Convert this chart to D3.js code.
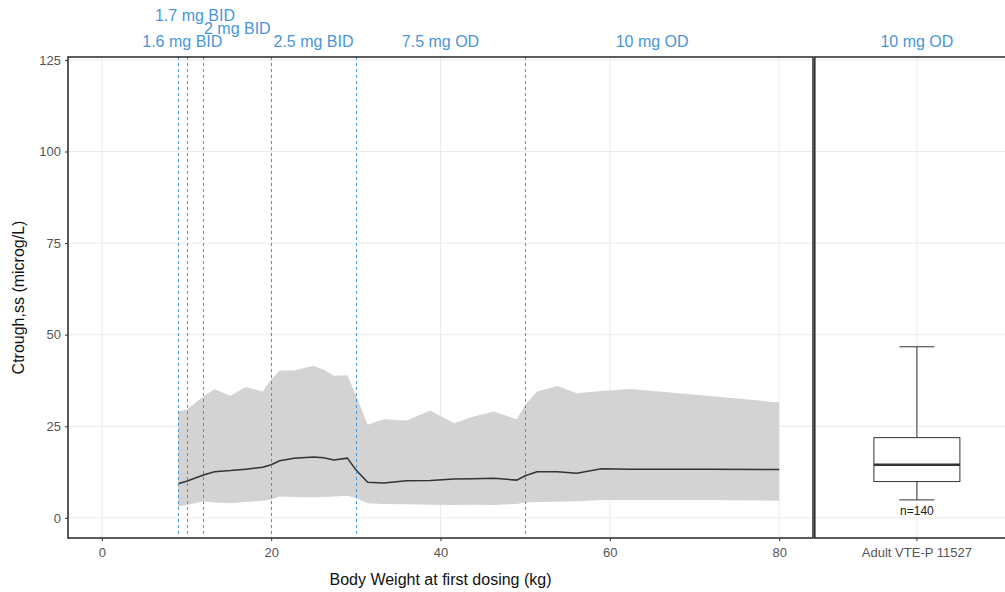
<!DOCTYPE html>
<html>
<head>
<meta charset="utf-8">
<script src="https://cdn.jsdelivr.net/npm/d3@7"></script>
<style>
  body { margin: 0; background: #fff; }
  svg { font-family: "Liberation Sans", Arial, sans-serif; }
</style>
</head>
<body>
<svg id="chart" width="1005" height="592"></svg>
<script>
// body weight (kg) where the prediction band was read
var weights = [9, 10, 12, 13.3, 15.2, 17, 19, 20, 21, 22.7, 25, 26.2, 27.4, 29, 30, 31.4, 33.3, 36, 38.8, 41.6, 43.9, 46.3, 49, 50, 51.4, 53.8, 56.1, 59, 62.4, 71.5, 80];
var upper = [29.0, 29.5, 33.1, 35.1, 33.3, 35.7, 34.5, 37.7, 40.2, 40.2, 41.5, 40.4, 38.8, 38.9, 33.6, 25.4, 26.9, 26.6, 29.3, 25.8, 27.7, 29.0, 26.9, 30.8, 34.5, 36.0, 34.0, 34.6, 35.2, 33.3, 31.5];
var lower = [3.1, 3.5, 4.5, 4.2, 4.0, 4.3, 4.7, 5.0, 5.8, 5.7, 5.6, 5.7, 5.8, 6.0, 5.4, 4.0, 3.8, 3.7, 3.6, 3.5, 3.6, 3.5, 3.8, 4.2, 4.3, 4.4, 4.5, 4.9, 4.9, 4.9, 4.7];
var median = [9.3, 10.0, 11.7, 12.6, 12.9, 13.3, 13.8, 14.5, 15.6, 16.3, 16.6, 16.4, 15.8, 16.3, 13.1, 9.7, 9.5, 10.1, 10.2, 10.6, 10.7, 10.8, 10.3, 11.5, 12.6, 12.6, 12.2, 13.4, 13.3, 13.3, 13.2];

// dose band cut points and labels
var cutPoints = [9, 10, 12, 20, 30, 50];
var doseLabels = ["1.6 mg BID", "1.7 mg BID", "2 mg BID", "2.5 mg BID", "7.5 mg OD", "10 mg OD"];
var doseLabelAt = [9.5, 11, 16, 25, 40, 65];
var doseLabelRow = [0, 2, 1, 0, 0, 0];

// adult reference boxplot
var adultLabel = "Adult VTE-P 11527";
var adultDose = "10 mg OD";
var adultStats = { whiskerLo: 4.9, q1: 9.9, med: 14.5, q3: 21.9, whiskerHi: 46.7, n: 140 };

var xTicks = [0, 20, 40, 60, 80];
var yTicks = [0, 25, 50, 75, 100, 125];

var svg = d3.select("#chart");
var pTop = 57, pBottom = 538;
var pLeft = 68, pRight = 813;
var rLeft = 814.8, rRight = 1019;

var x = d3.scaleLinear().domain([-4, 84]).range([pLeft, pRight]);
var y = d3.scaleLinear().domain([-5.5, 125.8]).range([pBottom, pTop]);
var xb = d3.scaleBand().domain([adultLabel]).range([rLeft, rRight]);

var blue = "#4896d8";
var gridCol = "#ebebeb";
var frameCol = "#333333";
var tickText = "#555555";

// grid - left panel
var grid = svg.append("g");
grid.selectAll(".gx").data(xTicks).enter().append("line")
  .attr("x1", function (d) { return x(d); }).attr("x2", function (d) { return x(d); })
  .attr("y1", pTop).attr("y2", pBottom)
  .attr("stroke", gridCol).attr("stroke-width", 1);
grid.selectAll(".gy").data(yTicks).enter().append("line")
  .attr("x1", pLeft).attr("x2", pRight)
  .attr("y1", function (d) { return y(d); }).attr("y2", function (d) { return y(d); })
  .attr("stroke", gridCol).attr("stroke-width", 1);
// grid - right panel
grid.selectAll(".gyr").data(yTicks).enter().append("line")
  .attr("x1", rLeft).attr("x2", rRight)
  .attr("y1", function (d) { return y(d); }).attr("y2", function (d) { return y(d); })
  .attr("stroke", gridCol).attr("stroke-width", 1);
var cx = xb(adultLabel) + xb.bandwidth() / 2;
grid.append("line")
  .attr("x1", cx).attr("x2", cx)
  .attr("y1", pTop).attr("y2", pBottom)
  .attr("stroke", gridCol).attr("stroke-width", 1);

// prediction band
var band = weights.map(function (w, i) { return { w: w, lo: lower[i], hi: upper[i], med: median[i] }; });

svg.append("path")
  .datum(band)
  .attr("fill", "#d3d3d3")
  .attr("d", d3.area()
    .x(function (d) { return x(d.w); })
    .y0(function (d) { return y(d.lo); })
    .y1(function (d) { return y(d.hi); }));

svg.append("path")
  .datum(band)
  .attr("fill", "none")
  .attr("stroke", "#333")
  .attr("stroke-width", 1.5)
  .attr("d", d3.line()
    .x(function (d) { return x(d.w); })
    .y(function (d) { return y(d.med); }));

// dose cut lines
svg.selectAll(".cut").data(cutPoints).enter().append("line")
  .attr("x1", function (d) { return Math.round(x(d)) + 0.5; }).attr("x2", function (d) { return Math.round(x(d)) + 0.5; })
  .attr("y1", pTop).attr("y2", pBottom)
  .attr("stroke", blue).attr("stroke-width", 1)
  .attr("stroke-dasharray", "3,3");

// dose labels on top
var rowBase = [47, 34, 21];
svg.selectAll(".dose").data(doseLabels).enter().append("text")
  .attr("x", function (d, i) { return x(doseLabelAt[i]); })
  .attr("y", function (d, i) { return rowBase[doseLabelRow[i]]; })
  .attr("text-anchor", "middle")
  .attr("fill", blue)
  .attr("font-size", 16)
  .text(function (d) { return d; });

svg.append("text")
  .attr("x", cx)
  .attr("y", rowBase[0])
  .attr("text-anchor", "middle")
  .attr("fill", blue)
  .attr("font-size", 16)
  .text(adultDose);

// boxplot
var boxW = 86, capW = 35;
var bx = svg.append("g").attr("stroke", "#333").attr("fill", "none");
bx.append("line").attr("x1", cx).attr("x2", cx).attr("y1", y(adultStats.q3)).attr("y2", y(adultStats.whiskerHi));
bx.append("line").attr("x1", cx).attr("x2", cx).attr("y1", y(adultStats.q1)).attr("y2", y(adultStats.whiskerLo));
bx.append("line").attr("x1", cx - capW / 2).attr("x2", cx + capW / 2).attr("y1", y(adultStats.whiskerHi)).attr("y2", y(adultStats.whiskerHi));
bx.append("line").attr("x1", cx - capW / 2).attr("x2", cx + capW / 2).attr("y1", y(adultStats.whiskerLo)).attr("y2", y(adultStats.whiskerLo));
bx.append("rect")
  .attr("x", cx - boxW / 2).attr("width", boxW)
  .attr("y", y(adultStats.q3)).attr("height", y(adultStats.q1) - y(adultStats.q3))
  .attr("fill", "#fff");
bx.append("line").attr("x1", cx - boxW / 2).attr("x2", cx + boxW / 2)
  .attr("y1", y(adultStats.med)).attr("y2", y(adultStats.med))
  .attr("stroke-width", 2.6);
svg.append("text")
  .attr("x", cx).attr("y", y(adultStats.whiskerLo) + 15)
  .attr("text-anchor", "middle").attr("font-size", 12).attr("fill", "#222")
  .text("n=" + adultStats.n);

// axes
var yAxis = svg.append("g").attr("transform", "translate(" + pLeft + ",0)")
  .call(d3.axisLeft(y).tickValues(yTicks).tickSize(3).tickPadding(4));
var xAxis = svg.append("g").attr("transform", "translate(0," + pBottom + ")")
  .call(d3.axisBottom(x).tickValues(xTicks).tickSize(3).tickPadding(7));
var xbAxis = svg.append("g").attr("transform", "translate(0," + pBottom + ")")
  .call(d3.axisBottom(xb).tickSize(3).tickPadding(7));
[yAxis, xAxis, xbAxis].forEach(function (a) {
  a.select(".domain").remove();
  a.selectAll(".tick line").attr("stroke", frameCol);
  a.selectAll(".tick text").attr("fill", tickText).attr("font-size", 13)
    .attr("font-family", "Liberation Sans, Arial, sans-serif");
});

// panel frames
svg.append("rect").attr("x", pLeft).attr("y", pTop).attr("width", pRight - pLeft).attr("height", pBottom - pTop)
  .attr("fill", "none").attr("stroke", frameCol).attr("stroke-width", 1.6);
svg.append("rect").attr("x", rLeft).attr("y", pTop).attr("width", rRight - rLeft).attr("height", pBottom - pTop)
  .attr("fill", "none").attr("stroke", frameCol).attr("stroke-width", 1.6);

// axis titles
svg.append("text")
  .attr("x", (pLeft + pRight) / 2).attr("y", 585)
  .attr("text-anchor", "middle").attr("font-size", 16).attr("fill", "#111")
  .text("Body Weight at first dosing (kg)");
svg.append("text")
  .attr("transform", "translate(24," + (pTop + pBottom) / 2 + ") rotate(-90)")
  .attr("text-anchor", "middle").attr("font-size", 16).attr("fill", "#111")
  .text("Ctrough,ss (microg/L)");
</script>
</body>
</html>
